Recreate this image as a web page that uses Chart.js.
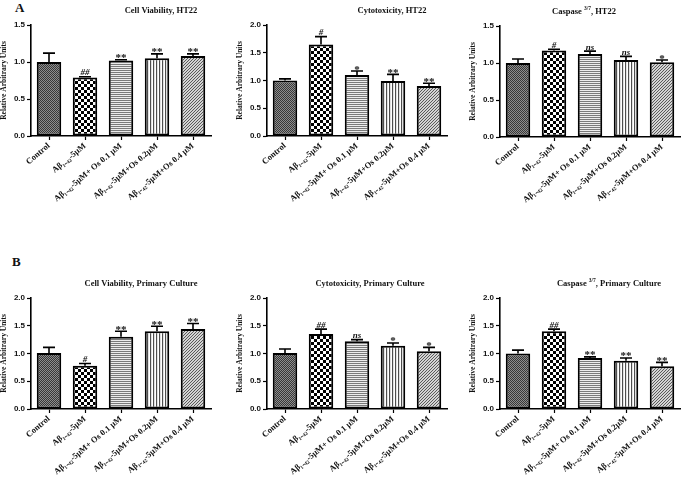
<!DOCTYPE html>
<html>
<head>
<meta charset="utf-8">
<script src="https://cdn.jsdelivr.net/npm/chart.js@4"></script>
<style>
  body { margin: 0; width: 685px; height: 480px; overflow: hidden; background: #fff; position: relative; }
  canvas { position: absolute; }
  .letter { position: absolute; font: bold 13px "Liberation Serif", serif; color: #111; }
</style>
</head>
<body>
<div class="letter" style="left:15px;top:0px">A</div>
<div class="letter" style="left:12px;top:254px">B</div>
<canvas id="a1" width="219" height="236" style="left:0px;top:0px"></canvas>
<canvas id="a2" width="219" height="236" style="left:236px;top:0px"></canvas>
<canvas id="a3" width="219" height="236" style="left:469px;top:1px"></canvas>
<canvas id="b1" width="219" height="236" style="left:0px;top:273px"></canvas>
<canvas id="b2" width="219" height="236" style="left:236px;top:273px"></canvas>
<canvas id="b3" width="219" height="236" style="left:469px;top:273px"></canvas>
<script>
// treatment groups (same for every panel)
var groups = ['Control', 'Aβ₁₋₄₂-5μM', 'Aβ₁₋₄₂-5μM+ Os 0.1 μM', 'Aβ₁₋₄₂-5μM+Os 0.2μM', 'Aβ₁₋₄₂-5μM+Os 0.4 μM'];

// A: HT22 cells
var viabilityHT22 = [1.00, 0.79, 1.02, 1.05, 1.08];
var viabilityHT22Sem = [0.12, 0.01, 0.01, 0.06, 0.03];
var viabilityHT22Sig = ['', '##', '**', '**', '**'];
var cytotoxHT22 = [1.00, 1.65, 1.10, 0.99, 0.90];
var cytotoxHT22Sem = [0.03, 0.14, 0.07, 0.12, 0.05];
var cytotoxHT22Sig = ['', '#', '*', '**', '**'];
var caspaseHT22 = [1.00, 1.17, 1.12, 1.04, 1.01];
var caspaseHT22Sem = [0.055, 0.015, 0.04, 0.05, 0.03];
var caspaseHT22Sig = ['', '#', 'ns', 'ns', '*'];

// B: primary culture
var viabilityPrimary = [1.01, 0.78, 1.30, 1.40, 1.44];
var viabilityPrimarySem = [0.10, 0.04, 0.10, 0.09, 0.10];
var viabilityPrimarySig = ['', '#', '**', '**', '**'];
var cytotoxPrimary = [1.01, 1.35, 1.22, 1.14, 1.04];
var cytotoxPrimarySem = [0.07, 0.09, 0.03, 0.05, 0.07];
var cytotoxPrimarySig = ['', '##', 'ns', '*', '*'];
var caspasePrimary = [1.00, 1.40, 0.92, 0.87, 0.77];
var caspasePrimarySem = [0.06, 0.04, 0.02, 0.05, 0.07];
var caspasePrimarySig = ['', '##', '**', '**', '**'];

var yMaxHT22 = [1.5, 2.0, 1.5];
var yMaxPrimary = [2.0, 2.0, 2.0];

var SERIF = '"Liberation Serif", "Times New Roman", serif';
var SANS = '"Liberation Sans", Arial, sans-serif';

// small repeating tiles for the GraphPad-style fills
function tile(w, h, draw) {
  var c = document.createElement('canvas');
  c.width = w; c.height = h;
  var g = c.getContext('2d');
  draw(g);
  return g.createPattern(c, 'repeat');
}
var fills = [
  tile(2, 2, function (g) {
    g.fillStyle = '#8e8e8e'; g.fillRect(0, 0, 2, 2);
    g.fillStyle = '#383838'; g.fillRect(0, 0, 1, 1); g.fillRect(1, 1, 1, 1);
  }),
  tile(6, 6, function (g) {
    g.fillStyle = '#fff'; g.fillRect(0, 0, 6, 6);
    g.fillStyle = '#000'; g.fillRect(0, 0, 3, 3); g.fillRect(3, 3, 3, 3);
  }),
  tile(1, 2, function (g) {
    g.fillStyle = '#ececec'; g.fillRect(0, 0, 1, 2);
    g.fillStyle = '#7a7a7a'; g.fillRect(0, 0, 1, 1);
  }),
  tile(3, 1, function (g) {
    g.fillStyle = '#fff'; g.fillRect(0, 0, 3, 1);
    g.fillStyle = '#4e4e4e'; g.fillRect(0, 0, 1, 1);
    g.fillStyle = '#e0e0e0'; g.fillRect(1, 0, 1, 1);
  }),
  tile(3, 3, function (g) {
    g.fillStyle = '#d4d4d4'; g.fillRect(0, 0, 3, 3);
    g.fillStyle = '#5a5a5a';
    g.fillRect(2, 0, 1, 1); g.fillRect(1, 1, 1, 1); g.fillRect(0, 2, 1, 1);
  })
];

// upper error whisker + significance mark over each bar
var errorBars = {
  id: 'errorBars',
  afterDatasetsDraw: function (chart) {
    var ds = chart.data.datasets[0];
    var meta = chart.getDatasetMeta(0);
    var y = chart.scales.y;
    var ctx = chart.ctx;
    ctx.save();
    ctx.strokeStyle = '#000';
    ctx.fillStyle = '#111';
    ctx.lineWidth = 1.6;
    ctx.textAlign = 'center';
    ctx.textBaseline = 'alphabetic';
    meta.data.forEach(function (bar, i) {
      var top = y.getPixelForValue(ds.data[i] + ds.sem[i]);
      ctx.beginPath();
      ctx.moveTo(bar.x, bar.y);
      ctx.lineTo(bar.x, top);
      ctx.moveTo(bar.x - 6, top);
      ctx.lineTo(bar.x + 6, top);
      ctx.stroke();
      var s = ds.sig[i];
      if (!s) return;
      if (s.charAt(0) === '*') {
        ctx.font = 'bold 11px ' + SERIF;
        ctx.fillText(s, bar.x, top + 1.5);
      } else {
        ctx.font = 'italic bold 9px ' + SERIF;
        ctx.fillText(s, bar.x, top - 1.5);
      }
    });
    ctx.restore();
  }
};

function makePanel(id, values, sem, sig, yMax, titleParts, shift) {
  var titlePlugin = {
    id: 'panelTitle',
    afterDraw: function (chart) {
      var ctx = chart.ctx, a = chart.chartArea;
      var big = 'bold 8.5px ' + SERIF, small = 'bold 5.5px ' + SERIF;
      var w = 0;
      titleParts.forEach(function (p) {
        ctx.font = p.sup ? small : big;
        w += ctx.measureText(p.t).width;
      });
      var x = (a.left + a.right) / 2 + shift - w / 2;
      var yy = a.top - 12;
      ctx.save();
      ctx.fillStyle = '#111';
      ctx.textAlign = 'left';
      ctx.textBaseline = 'alphabetic';
      titleParts.forEach(function (p) {
        ctx.font = p.sup ? small : big;
        ctx.fillText(p.t, x, p.sup ? yy - 4 : yy);
        x += ctx.measureText(p.t).width;
      });
      ctx.restore();
    }
  };

  return new Chart(document.getElementById(id), {
    type: 'bar',
    data: {
      labels: groups,
      datasets: [{
        data: values,
        sem: sem,
        sig: sig,
        backgroundColor: fills,
        borderColor: '#000',
        borderWidth: 2,
        borderSkipped: false,
        barPercentage: 0.68,
        categoryPercentage: 1
      }]
    },
    options: {
      responsive: false,
      animation: false,
      devicePixelRatio: 1,
      layout: { padding: { top: 25, right: 8, left: 0, bottom: 0 } },
      plugins: { legend: { display: false }, tooltip: { enabled: false } },
      scales: {
        x: {
          grid: { offset: false, drawOnChartArea: false, color: '#000', tickLength: 4, tickWidth: 1.2 },
          border: { color: '#000', width: 1.6 },
          ticks: {
            autoSkip: false, minRotation: 40, maxRotation: 40, padding: 1,
            color: '#111', font: { family: SERIF, weight: 'bold', size: 8.5 }
          },
          afterFit: function (axis) { axis.height = 100; axis.paddingLeft = 0; axis.paddingRight = 0; }
        },
        y: {
          min: 0, max: yMax,
          grid: { drawOnChartArea: false, color: '#000', tickLength: 4, tickWidth: 1.2 },
          border: { color: '#000', width: 1.6 },
          ticks: {
            stepSize: 0.5, padding: 2, color: '#111',
            font: { family: SANS, weight: 'bold', size: 8 },
            callback: function (v) { return v.toFixed(1); }
          },
          title: {
            display: true, text: 'Relative Arbitrary Units', padding: 0, color: '#111',
            font: { family: SERIF, weight: 'bold', size: 7.5 }
          },
          afterFit: function (axis) { axis.width = 31; }
        }
      }
    },
    plugins: [errorBars, titlePlugin]
  });
}

makePanel('a1', viabilityHT22, viabilityHT22Sem, viabilityHT22Sig, yMaxHT22[0], [{ t: 'Cell Viability, HT22' }], 40);
makePanel('a2', cytotoxHT22, cytotoxHT22Sem, cytotoxHT22Sig, yMaxHT22[1], [{ t: 'Cytotoxicity, HT22' }], 35);
makePanel('a3', caspaseHT22, caspaseHT22Sem, caspaseHT22Sig, yMaxHT22[2], [{ t: 'Caspase ' }, { t: '3/7', sup: true }, { t: ', HT22' }], -6);
makePanel('b1', viabilityPrimary, viabilityPrimarySem, viabilityPrimarySig, yMaxPrimary[0], [{ t: 'Cell Viability, Primary Culture' }], 20);
makePanel('b2', cytotoxPrimary, cytotoxPrimarySem, cytotoxPrimarySig, yMaxPrimary[1], [{ t: 'Cytotoxicity, Primary Culture' }], 13);
makePanel('b3', caspasePrimary, caspasePrimarySem, caspasePrimarySig, yMaxPrimary[2], [{ t: 'Caspase ' }, { t: '3/7', sup: true }, { t: ', Primary Culture' }], 19);
</script>
</body>
</html>
